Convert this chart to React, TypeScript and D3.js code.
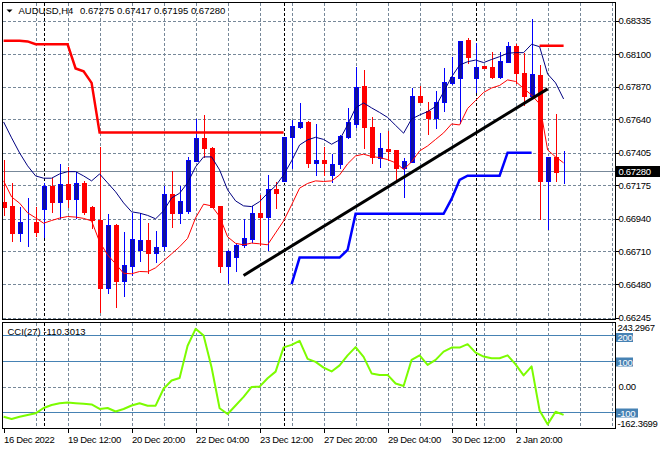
import React, { useEffect, useRef } from 'react';
import * as d3 from 'd3';

// AUDUSD H4, bar 0 = 16 Dec 04:00 ... bar 70 = 3 Jan 20:00
const barOpen = [
  0.67061, 0.67031, 0.66839, 0.66914, 0.66918, 0.67008, 0.67172, 0.67061, 0.67186, 0.67080,
  0.67195, 0.67026, 0.66933, 0.66456, 0.66897, 0.66505, 0.66611, 0.66717, 0.66792, 0.66698,
  0.66745, 0.67116, 0.66984, 0.66998, 0.67350, 0.67507, 0.67437, 0.67033, 0.66611, 0.66670,
  0.66757, 0.66799, 0.66980, 0.66956, 0.67151, 0.67209, 0.67519, 0.67589, 0.67622, 0.67336,
  0.67355, 0.67251, 0.67327, 0.67519, 0.67608, 0.67875, 0.67585, 0.67371, 0.67434, 0.67425,
  0.67301, 0.67343, 0.67805, 0.67702, 0.67652, 0.67761, 0.67899, 0.67934, 0.68199, 0.67930,
  0.68016, 0.68007, 0.67941, 0.68046, 0.68157, 0.67969, 0.67805, 0.67953, 0.67209, 0.67378,
  0.67275,
];
const barHigh = [
  0.67355, 0.67195, 0.67026, 0.67085, 0.67022, 0.67191, 0.67226, 0.67327, 0.67303, 0.67272,
  0.67203, 0.67031, 0.67444, 0.66975, 0.66904, 0.66850, 0.66980, 0.66980, 0.66909, 0.66857,
  0.67172, 0.67280, 0.67172, 0.67374, 0.67643, 0.67671, 0.67446, 0.67033, 0.66721, 0.66764,
  0.66940, 0.67033, 0.67108, 0.67249, 0.67202, 0.67516, 0.67636, 0.67754, 0.67626, 0.67608,
  0.67444, 0.67397, 0.67531, 0.67719, 0.68007, 0.67988, 0.67655, 0.67543, 0.67561, 0.67425,
  0.67367, 0.67859, 0.67876, 0.67765, 0.67840, 0.68000, 0.68082, 0.68192, 0.68215, 0.68176,
  0.68016, 0.68117, 0.68117, 0.68183, 0.68169, 0.68106, 0.68345, 0.68023, 0.67378, 0.67679,
  0.67417,
];
const barLow = [
  0.66968, 0.66787, 0.66787, 0.66745, 0.66820, 0.66811, 0.66991, 0.66945, 0.67022, 0.66945,
  0.66975, 0.66874, 0.66287, 0.66417, 0.66322, 0.66393, 0.66546, 0.66646, 0.66560, 0.66635,
  0.66717, 0.66885, 0.66909, 0.66984, 0.67350, 0.67374, 0.67024, 0.66565, 0.66491, 0.66569,
  0.66738, 0.66780, 0.66757, 0.66721, 0.67015, 0.67207, 0.67298, 0.67578, 0.67308, 0.67247,
  0.67247, 0.67202, 0.67296, 0.67507, 0.67589, 0.67437, 0.67331, 0.67308, 0.67355, 0.67214,
  0.67097, 0.67343, 0.67765, 0.67536, 0.67578, 0.67702, 0.67890, 0.67613, 0.68035, 0.67835,
  0.68004, 0.67930, 0.67934, 0.68046, 0.67899, 0.67742, 0.67798, 0.66938, 0.66869, 0.67209,
  0.67195,
];
const barClose = [
  0.67026, 0.66839, 0.66918, 0.66917, 0.66850, 0.67172, 0.67061, 0.67186, 0.67080, 0.67195,
  0.66991, 0.66933, 0.66456, 0.66897, 0.66505, 0.66616, 0.66797, 0.66792, 0.66698, 0.66740,
  0.67116, 0.66984, 0.67066, 0.67355, 0.67507, 0.67437, 0.67026, 0.66611, 0.66714, 0.66757,
  0.66804, 0.66980, 0.66956, 0.67151, 0.67125, 0.67514, 0.67594, 0.67622, 0.67336, 0.67355,
  0.67336, 0.67327, 0.67524, 0.67620, 0.67871, 0.67585, 0.67378, 0.67441, 0.67420, 0.67301,
  0.67348, 0.67805, 0.67765, 0.67652, 0.67765, 0.67906, 0.67941, 0.68192, 0.68082, 0.68011,
  0.68004, 0.67941, 0.68051, 0.68157, 0.67969, 0.67805, 0.67960, 0.67209, 0.67378, 0.67272,
  0.67280,
];

// thin navy (upper) and thin red (lower) envelope lines
const upperBand = [
  0.67622, 0.67510, 0.67404, 0.67313, 0.67242, 0.67226, 0.67226, 0.67256, 0.67272, 0.67272,
  0.67242, 0.67207, 0.67256, 0.67193, 0.67130, 0.67052, 0.66989, 0.66980, 0.66964, 0.66940,
  0.66996, 0.67087, 0.67120, 0.67193, 0.67306, 0.67376, 0.67376, 0.67284, 0.67144, 0.67066,
  0.67031, 0.67026, 0.67061, 0.67120, 0.67172, 0.67249, 0.67348, 0.67460, 0.67496, 0.67514,
  0.67499, 0.67465, 0.67496, 0.67601, 0.67721, 0.67756, 0.67721, 0.67689, 0.67654, 0.67598,
  0.67543, 0.67643, 0.67671, 0.67695, 0.67731, 0.67833, 0.67939, 0.68023, 0.68046, 0.68058,
  0.68040, 0.68062, 0.68082, 0.68106, 0.68110, 0.68110, 0.68169, 0.68152, 0.67960, 0.67897,
  0.67784,
];
const lowerBand = [
  0.67207, 0.67094, 0.67050, 0.66982, 0.66947, 0.66909, 0.66928, 0.66945, 0.66956, 0.66952,
  0.66943, 0.66925, 0.66778, 0.66686, 0.66623, 0.66556, 0.66553, 0.66569, 0.66567, 0.66595,
  0.66644, 0.66693, 0.66743, 0.66802, 0.66947, 0.67043, 0.67031, 0.66956, 0.66813, 0.66767,
  0.66757, 0.66769, 0.66764, 0.66757, 0.66841, 0.66925, 0.67038, 0.67156, 0.67189, 0.67207,
  0.67203, 0.67207, 0.67249, 0.67327, 0.67383, 0.67395, 0.67379, 0.67371, 0.67357, 0.67334,
  0.67288, 0.67341, 0.67418, 0.67453, 0.67499, 0.67545, 0.67608, 0.67601, 0.67717, 0.67773,
  0.67830, 0.67861, 0.67879, 0.67918, 0.67907, 0.67858, 0.67812, 0.67749, 0.67425, 0.67376,
  0.67334,
];

// thick red / blue step lines (gaps = null)
const upperChannel: (number | null)[] = [
  0.68194, 0.68194, 0.68194, 0.68189, 0.68169, 0.68169, 0.68169, 0.68169, 0.68169, 0.67999,
  0.67978, 0.67897, 0.67547, 0.67547, 0.67547, 0.67547, 0.67547, 0.67547, 0.67547, 0.67547,
  0.67547, 0.67547, 0.67547, 0.67547, 0.67547, 0.67547, 0.67547, 0.67547, 0.67547, 0.67547,
  0.67547, 0.67547, 0.67547, 0.67547, 0.67547, 0.67547, null, null, null, null,
  null, null, null, null, null, null, null, null, null, null,
  null, null, null, null, null, null, null, null, null, null,
  null, null, null, null, null, null, null, 0.68159, 0.68159, 0.68159,
  0.68159,
];
const lowerChannel: (number | null)[] = [
  null, null, null, null, null, null, null, null, null, null,
  null, null, null, null, null, null, null, null, null, null,
  null, null, null, null, null, null, null, null, null, null,
  null, null, null, null, null, null, 0.66480, 0.66667, 0.66667, 0.66667,
  0.66667, 0.66667, 0.66667, 0.66721, 0.66975, 0.66975, 0.66975, 0.66975, 0.66975, 0.66975,
  0.66975, 0.66975, 0.66975, 0.66975, 0.66975, 0.66975, 0.67080, 0.67214, 0.67244, 0.67244,
  0.67244, 0.67244, 0.67244, 0.67406, 0.67406, 0.67406, 0.67406, null, null, null,
  null,
];

const cciValues = [
  -117.5, -126.5, -117.5, -110.8, -104.2, -83.4, -71.7, -65.0, -61.9, -64.6,
  -67.0, -69.7, -87.3, -83.4, -97.1, -87.3, -73.6, -65.0, -74.4, -74.4,
  -8.0, 24.0, 34.0, 160.0, 226.0, 200.0, 75.0, -84.6, -106.9, -73.6,
  -40.0, -1.2, 0.0, 32.9, 58.8, 153.5, 163.3, 179.0, 108.5, 96.7,
  74.4, 59.5, 83.0, 122.2, 154.3, 116.3, 51.7, 45.8, 45.8, 12.5,
  2.7, 104.6, 122.2, 85.0, 104.6, 137.1, 152.8, 152.8, 166.1, 133.2,
  117.5, 111.2, 111.2, 122.2, 87.0, 43.9, 79.1, -93.2, -147.3, -97.9,
  -110.3013,
];

const priceTicks = [0.68335, 0.681, 0.6787, 0.6764, 0.67405, 0.67175, 0.6694, 0.6671, 0.6648, 0.66245];
const timeLabels = [
  { bar: 0, text: '16 Dec 2022' },
  { bar: 8, text: '19 Dec 12:00' },
  { bar: 16, text: '20 Dec 20:00' },
  { bar: 24, text: '22 Dec 04:00' },
  { bar: 32, text: '23 Dec 12:00' },
  { bar: 40, text: '27 Dec 20:00' },
  { bar: 48, text: '29 Dec 04:00' },
  { bar: 56, text: '30 Dec 12:00' },
  { bar: 64, text: '2 Jan 20:00' },
];
const gridBars = [4, 8, 12, 16, 20, 24, 28, 32, 36, 40, 44, 48, 52, 56, 60, 64, 68, 72, 76];
const weekSeparators = [5, 35, 59];
const trendLine = [
  { bar: 30, price: 0.66541 },
  { bar: 68, price: 0.67855 },
];
const cciLevels = [200, 100, -100];
const cciMax = 243.2967;
const cciMin = -162.3699;
const lastPrice = 0.6728;
const symbolTitle = 'AUDUSD,H4';
const ohlcTitle = '0.67275 0.67417 0.67195 0.67280';
const cciHeader = 'CCI(27) -110.3013';

const FONT = "'Liberation Sans', Arial, sans-serif";
const GRID = '#778899';

export default function App() {
  const svgRef = useRef<SVGSVGElement>(null);

  useEffect(() => {
    if (!svgRef.current) return;
    const svg = d3.select(svgRef.current);
    svg.selectAll('*').remove();

    const left = 2.5, right = 615.5;
    const mainTop = 2.5, mainBottom = 319.5;
    const subTop = 322.5, subBottom = 428.5;

    const x = d3.scaleLinear().domain([0, 70]).range([3.6, 563.6]);
    const y = d3.scaleLinear().domain([0.66245, 0.68335]).range([317.5, 20.7]);
    const yc = d3.scaleLinear().domain([cciMin, cciMax]).range([428.2, 324.4]);
    const px = (i: number) => Math.round(x(i));

    svg.append('rect').attr('width', 660).attr('height', 450).attr('fill', '#fff');

    const defs = svg.append('defs');
    defs.append('clipPath').attr('id', 'clip-main')
      .append('rect').attr('x', left).attr('y', mainTop).attr('width', right - left).attr('height', mainBottom - mainTop);
    defs.append('clipPath').attr('id', 'clip-sub')
      .append('rect').attr('x', left).attr('y', subTop).attr('width', right - left).attr('height', subBottom - subTop);

    // grid
    const grid = svg.append('g').attr('shape-rendering', 'crispEdges').attr('stroke-dasharray', '3,2');
    [[mainTop, mainBottom], [subTop, subBottom]].forEach(([t, b]) => {
      grid.append('g').selectAll('line').data(gridBars).join('line')
        .attr('x1', d => px(d) + 0.5).attr('x2', d => px(d) + 0.5)
        .attr('y1', t).attr('y2', b)
        .attr('stroke', GRID);
      grid.append('g').selectAll('line').data(weekSeparators).join('line')
        .attr('x1', d => px(d) + 0.5).attr('x2', d => px(d) + 0.5)
        .attr('y1', t).attr('y2', b)
        .attr('stroke', '#000');
    });
    grid.append('g').selectAll('line').data(priceTicks).join('line')
      .attr('x1', left).attr('x2', right)
      .attr('y1', d => Math.round(y(d)) + 0.5).attr('y2', d => Math.round(y(d)) + 0.5)
      .attr('stroke', GRID);
    grid.append('line')
      .attr('x1', left).attr('x2', right)
      .attr('y1', Math.round(yc(0)) + 0.5).attr('y2', Math.round(yc(0)) + 0.5)
      .attr('stroke', GRID);

    // bid line
    svg.append('line').attr('shape-rendering', 'crispEdges')
      .attr('x1', left).attr('x2', right)
      .attr('y1', Math.round(y(lastPrice)) + 0.5).attr('y2', Math.round(y(lastPrice)) + 0.5)
      .attr('stroke', GRID);

    // candles
    const bars = d3.range(barOpen.length).map(i => ({
      i, o: barOpen[i], h: barHigh[i], l: barLow[i], c: barClose[i],
    }));
    const main = svg.append('g').attr('clip-path', 'url(#clip-main)');
    const cg = main.append('g').attr('shape-rendering', 'crispEdges');
    cg.selectAll('line').data(bars).join('line')
      .attr('x1', d => px(d.i) + 0.5).attr('x2', d => px(d.i) + 0.5)
      .attr('y1', d => Math.round(y(d.h))).attr('y2', d => Math.round(y(d.l)) + 1)
      .attr('stroke', d => (d.c >= d.o ? '#0000ff' : '#ff0000'));
    cg.selectAll('rect').data(bars).join('rect')
      .attr('x', d => px(d.i) - 1.5)
      .attr('width', 4)
      .attr('y', d => Math.round(y(Math.max(d.o, d.c))) + 0.5)
      .attr('height', d => Math.max(0, Math.round(y(Math.min(d.o, d.c))) - Math.round(y(Math.max(d.o, d.c)))))
      .attr('fill', d => (d.c >= d.o ? '#10109c' : '#ff0000'))
      .attr('stroke', d => (d.c >= d.o ? '#0000ff' : '#ff0000'));

    // indicator lines
    const series = d3.line<number | null>()
      .defined(d => d !== null)
      .x((_, i) => x(i))
      .y(d => y(d as number));
    main.append('path').attr('d', series(upperBand)).attr('fill', 'none').attr('stroke', '#000080').attr('stroke-width', 1);
    main.append('path').attr('d', series(lowerBand)).attr('fill', 'none').attr('stroke', '#ff0000').attr('stroke-width', 1);
    main.append('path').attr('d', series(upperChannel)).attr('fill', 'none').attr('stroke', '#ff0000').attr('stroke-width', 2.5);
    main.append('path').attr('d', series(lowerChannel)).attr('fill', 'none').attr('stroke', '#0000ff').attr('stroke-width', 2.5);
    main.append('path')
      .attr('d', d3.line<{ bar: number; price: number }>().x(d => x(d.bar)).y(d => y(d.price))(trendLine))
      .attr('fill', 'none').attr('stroke', '#000').attr('stroke-width', 3);

    // CCI window
    const sub = svg.append('g').attr('clip-path', 'url(#clip-sub)');
    sub.append('g').attr('shape-rendering', 'crispEdges').selectAll('line').data(cciLevels).join('line')
      .attr('x1', left).attr('x2', right)
      .attr('y1', d => Math.round(yc(d)) + 0.5).attr('y2', d => Math.round(yc(d)) + 0.5)
      .attr('stroke', '#4682b4');
    sub.append('path')
      .attr('d', d3.line<number>().x((_, i) => x(i)).y(d => yc(d))(cciValues))
      .attr('fill', 'none').attr('stroke', '#7cfc00').attr('stroke-width', 2)
      .attr('stroke-linejoin', 'round');

    // frames
    const frames = svg.append('g').attr('fill', 'none').attr('stroke', '#000').attr('shape-rendering', 'crispEdges');
    frames.append('rect').attr('x', left).attr('y', mainTop).attr('width', right - left).attr('height', mainBottom - mainTop);
    frames.append('rect').attr('x', left).attr('y', subTop).attr('width', right - left).attr('height', subBottom - subTop);

    const txt = svg.append('g').style('font-family', FONT).style('font-size', '9.5px').attr('fill', '#000');
    const axisTxt = txt.append('g').style('letter-spacing', '-0.3px');

    // price axis
    axisTxt.append('g').attr('shape-rendering', 'crispEdges').selectAll('line').data(priceTicks).join('line')
      .attr('x1', right).attr('x2', right + 3)
      .attr('y1', d => Math.round(y(d)) + 0.5).attr('y2', d => Math.round(y(d)) + 0.5)
      .attr('stroke', '#000');
    axisTxt.append('g').selectAll('text').data(priceTicks).join('text')
      .attr('x', 618.5).attr('y', d => y(d) + 3.5)
      .text(d => d3.format('.5f')(d));

    const by = Math.round(y(lastPrice));
    axisTxt.append('rect').attr('x', 616).attr('y', by - 5).attr('width', 44).attr('height', 11).attr('fill', '#000');
    axisTxt.append('text').attr('x', 618.5).attr('y', by + 4).attr('fill', '#fff').text(d3.format('.5f')(lastPrice));

    // CCI axis
    cciLevels.forEach(v => {
      const ly = Math.round(yc(v)) + 0.5;
      const label = String(v);
      const w = label.length * 5 + 2;
      const shift = v === 200 ? 1.5 : 0;
      axisTxt.append('rect').attr('x', 616).attr('y', ly - 4 + shift).attr('width', w).attr('height', 9).attr('fill', '#4682b4');
      axisTxt.append('text').attr('x', 617.5).attr('y', ly + 4 + shift).attr('fill', '#fff').text(label);
    });
    axisTxt.append('text').attr('x', 617.5).attr('y', subTop + 8).text(cciMax.toFixed(4));
    axisTxt.append('text').attr('x', 618.5).attr('y', yc(0) + 3.5).text('0.00');
    axisTxt.append('text').attr('x', 617.5).attr('y', 426.5).text(cciMin.toFixed(4));

    // time axis
    axisTxt.append('g').attr('shape-rendering', 'crispEdges').selectAll('line').data(timeLabels).join('line')
      .attr('x1', d => px(d.bar) + 0.5).attr('x2', d => px(d.bar) + 0.5)
      .attr('y1', subBottom).attr('y2', subBottom + 4)
      .attr('stroke', '#000');
    axisTxt.append('g').selectAll('text').data(timeLabels).join('text')
      .attr('x', d => Math.max(3, px(d.bar))).attr('y', 442.5)
      .text(d => d.text);

    // headers
    txt.append('path').attr('d', 'M6.5,9.5 L12.5,9.5 L9.5,12.5 Z').attr('fill', '#000');
    txt.append('text').attr('x', 18.5).attr('y', 14).text(symbolTitle);
    txt.append('text').attr('x', 80).attr('y', 14).text(ohlcTitle);
    txt.append('text').attr('x', 7.5).attr('y', 335).text(cciHeader);
  }, []);

  return (
    <div style={{ position: 'absolute', left: 0, top: 0 }}>
      <svg ref={svgRef} width={660} height={450} />
    </div>
  );
}
